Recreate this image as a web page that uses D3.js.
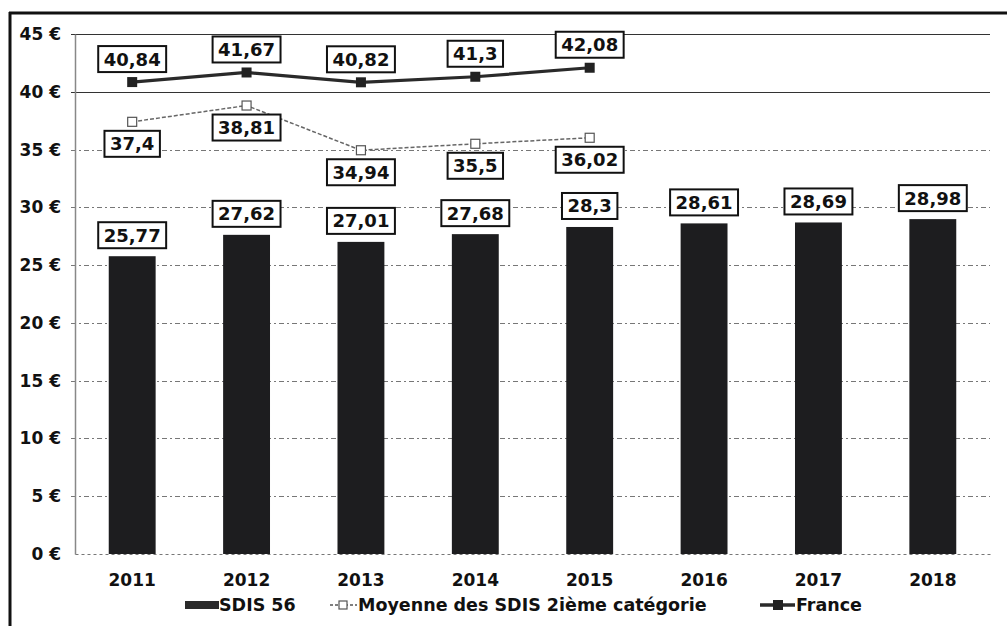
<!DOCTYPE html>
<html>
<head>
<meta charset="utf-8">
<script src="https://cdn.jsdelivr.net/npm/d3@7"></script>
<style>
  html, body { margin: 0; padding: 0; background: #fff; }
  svg { display: block; }
  svg text { font-family: "DejaVu Sans", Verdana, sans-serif; }
</style>
</head>
<body>
<svg id="chart" width="1007" height="626"></svg>
<script>
// Coût par habitant (€), 2011–2018
const years = ["2011", "2012", "2013", "2014", "2015", "2016", "2017", "2018"];
const sdis56 = [25.77, 27.62, 27.01, 27.68, 28.3, 28.61, 28.69, 28.98];
const moyenneYears = ["2011", "2012", "2013", "2014", "2015"];
const moyenne = [37.4, 38.81, 34.94, 35.5, 36.02];
const franceYears = ["2011", "2012", "2013", "2014", "2015"];
const france = [40.84, 41.67, 40.82, 41.3, 42.08];
const yTicks = [0, 5, 10, 15, 20, 25, 30, 35, 40, 45];
const legendLabels = ["SDIS 56", "Moyenne des SDIS 2ième catégorie", "France"];

const svg = d3.select("#chart");
const margin = { left: 75, right: 17, top: 34, bottom: 72 };
const W = 1007, H = 626;

const x = d3.scaleBand().domain(years)
  .range([margin.left, W - margin.right]).paddingInner(0.59).paddingOuter(0.295);
const y = d3.scaleLinear().domain([0, 45]).range([H - margin.bottom, margin.top]);
const cx = d => x(d) + x.bandwidth() / 2;
const fmt = v => String(v).replace(".", ",");

// Outer frame (top and left edges)
svg.append("line").attr("x1", 9).attr("x2", W).attr("y1", 13).attr("y2", 13)
  .attr("stroke", "#111").attr("stroke-width", 3);
svg.append("line").attr("x1", 10).attr("x2", 10).attr("y1", 12).attr("y2", H)
  .attr("stroke", "#111").attr("stroke-width", 3);

// Horizontal gridlines
const grid = svg.append("g");
yTicks.filter(t => t > 0).forEach(t => {
  const solid = t >= 40;
  grid.append("line")
    .attr("x1", margin.left - 4).attr("x2", W - margin.right)
    .attr("y1", Math.round(y(t)) + 0.5).attr("y2", Math.round(y(t)) + 0.5)
    .attr("stroke", solid ? "#333" : "#777")
    .attr("stroke-width", 1)
    .attr("stroke-dasharray", solid ? null : "5,3,2,3");
});

// Y axis
const yAxis = svg.append("g").attr("transform", `translate(${margin.left},0)`)
  .call(d3.axisLeft(y).tickValues(yTicks).tickSize(0).tickPadding(14)
    .tickFormat(d => d + " €"));
yAxis.select(".domain").attr("stroke", "#888").attr("stroke-width", 1.5);
yAxis.selectAll("text")
  .attr("font-family", "DejaVu Sans, Verdana, sans-serif")
  .attr("font-size", 17).attr("font-weight", "bold").attr("fill", "#111");

// X axis
const xAxis = svg.append("g").attr("transform", `translate(0,${y(0)})`)
  .call(d3.axisBottom(x).tickSize(0).tickPadding(20));
xAxis.select(".domain").attr("stroke", "#777").attr("stroke-dasharray", "3,3");
xAxis.selectAll("text")
  .attr("font-family", "DejaVu Sans, Verdana, sans-serif")
  .attr("font-size", 17).attr("font-weight", "bold").attr("fill", "#111");

// Bars
svg.append("g").selectAll("rect").data(years).join("rect")
  .attr("x", d => x(d))
  .attr("width", x.bandwidth())
  .attr("y", (d, i) => y(sdis56[i]))
  .attr("height", (d, i) => y(0) - y(sdis56[i]))
  .attr("fill", "#1d1d1f");

// Lines
const line = d3.line().x(d => cx(d[0])).y(d => y(d[1]));
const moyPts = moyenneYears.map((d, i) => [d, moyenne[i]]);
const frPts = franceYears.map((d, i) => [d, france[i]]);

svg.append("path").datum(moyPts).attr("d", line)
  .attr("fill", "none").attr("stroke", "#666").attr("stroke-width", 1.5)
  .attr("stroke-dasharray", "4,2");
svg.append("g").selectAll("rect").data(moyPts).join("rect")
  .attr("x", d => cx(d[0]) - 4.5).attr("y", d => y(d[1]) - 4.5)
  .attr("width", 9).attr("height", 9)
  .attr("fill", "#fff").attr("stroke", "#555").attr("stroke-width", 1.2);

svg.append("path").datum(frPts).attr("d", line)
  .attr("fill", "none").attr("stroke", "#2a2a2a").attr("stroke-width", 3.2);
svg.append("g").selectAll("rect").data(frPts).join("rect")
  .attr("x", d => cx(d[0]) - 5).attr("y", d => y(d[1]) - 5)
  .attr("width", 10).attr("height", 10)
  .attr("fill", "#222");

// Boxed value labels
function boxLabel(g, xc, yc, text) {
  const t = g.append("text").attr("x", xc).attr("y", yc)
    .attr("text-anchor", "middle").attr("dominant-baseline", "central")
    .attr("font-size", 18).attr("font-weight", "bold").attr("fill", "#111")
    .text(text);
  const w = t.node().getComputedTextLength() + 11;
  g.insert("rect", "text:last-child")
    .attr("x", xc - w / 2).attr("y", yc - 13).attr("width", w).attr("height", 26)
    .attr("fill", "#fff").attr("stroke", "#111").attr("stroke-width", 2);
}
const labels = svg.append("g");
years.forEach((d, i) => {
  const g = labels.append("g");
  boxLabel(g, cx(d), y(sdis56[i]) - 21, fmt(sdis56[i]));
});
moyPts.forEach(p => {
  const g = labels.append("g");
  boxLabel(g, cx(p[0]), y(p[1]) + 22, fmt(p[1]));
});
frPts.forEach(p => {
  const g = labels.append("g");
  boxLabel(g, cx(p[0]), y(p[1]) - 23, fmt(p[1]));
});

// Legend
const ly = 605;
const legend = svg.append("g").attr("font-size", 17.5).attr("font-weight", "bold")
  .attr("fill", "#111");
legend.append("rect").attr("x", 185).attr("y", ly - 4).attr("width", 34).attr("height", 8)
  .attr("fill", "#2a2a2a");
legend.append("text").attr("x", 219).attr("y", ly).attr("dominant-baseline", "central")
  .text(legendLabels[0]);

legend.append("line").attr("x1", 330).attr("x2", 357).attr("y1", ly).attr("y2", ly)
  .attr("stroke", "#555").attr("stroke-width", 1.6).attr("stroke-dasharray", "3,2");
legend.append("rect").attr("x", 339).attr("y", ly - 4).attr("width", 8).attr("height", 8)
  .attr("fill", "#fff").attr("stroke", "#555").attr("stroke-width", 1.2);
legend.append("text").attr("x", 358).attr("y", ly).attr("dominant-baseline", "central")
  .text(legendLabels[1]);

legend.append("line").attr("x1", 760).attr("x2", 795).attr("y1", ly).attr("y2", ly)
  .attr("stroke", "#2a2a2a").attr("stroke-width", 3.5);
legend.append("rect").attr("x", 773).attr("y", ly - 5).attr("width", 10).attr("height", 10)
  .attr("fill", "#222");
legend.append("text").attr("x", 796).attr("y", ly).attr("dominant-baseline", "central")
  .text(legendLabels[2]);
</script>
</body>
</html>
